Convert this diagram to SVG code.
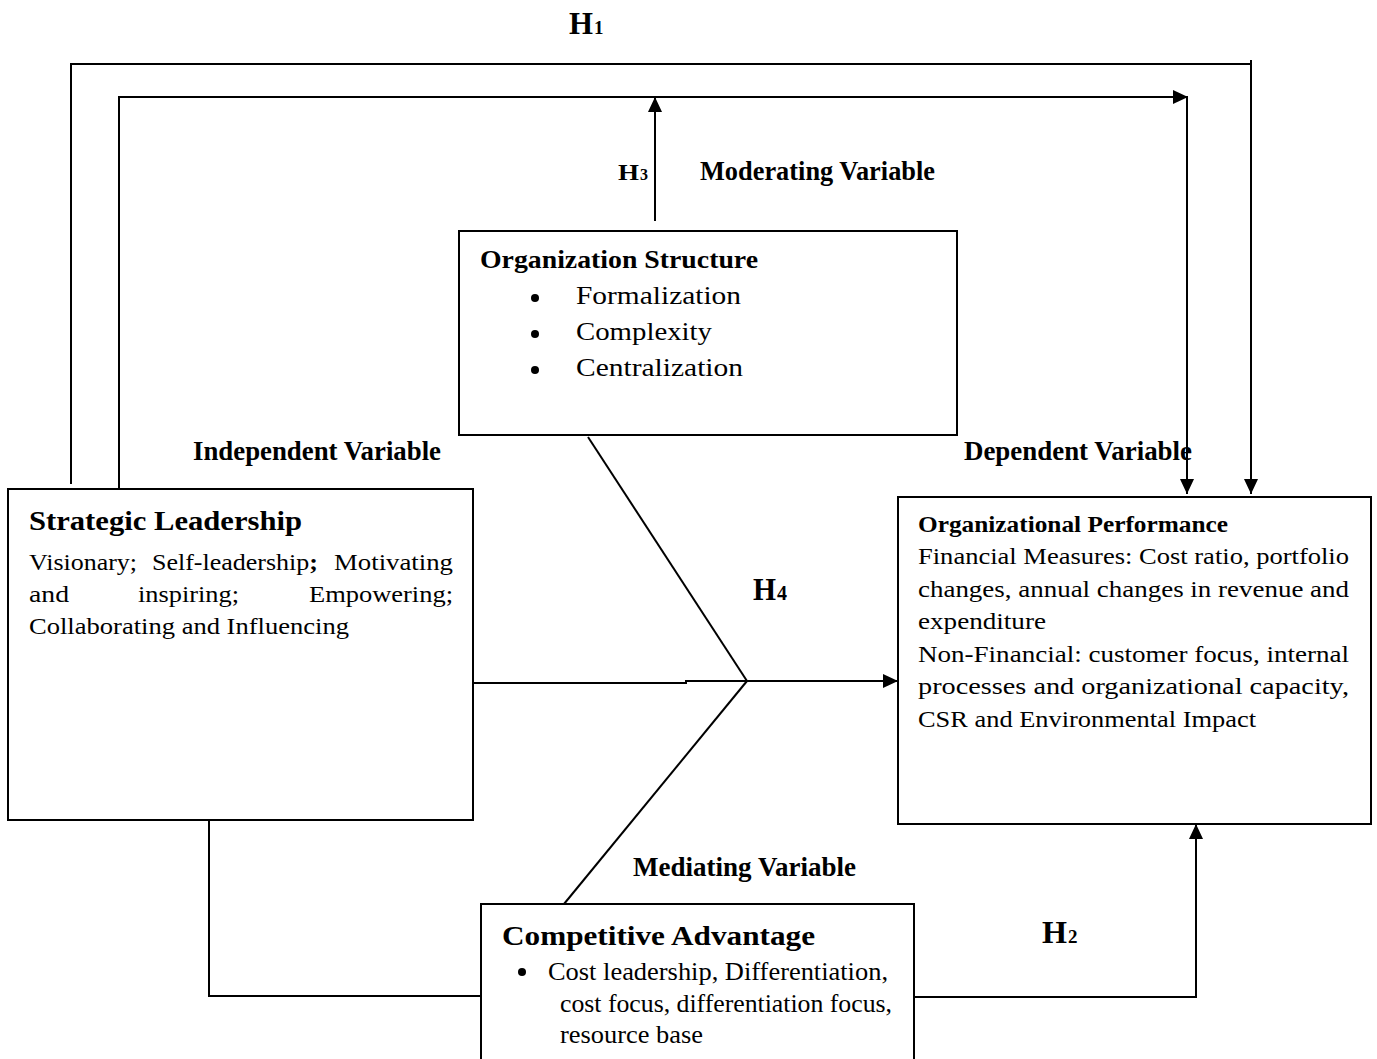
<svg xmlns="http://www.w3.org/2000/svg" width="1377" height="1059" viewBox="0 0 1377 1059">
  <style>
    .bg { fill: #ffffff; }
    .box { fill: #ffffff; stroke: #000000; stroke-width: 2; }
    .conn { fill: none; stroke: #000000; stroke-width: 2; }
    .dot { fill: #000000; }
    .serif { font-family: "Liberation Serif", "Times New Roman", serif; fill: #000000; }
    .lbl { font-weight: bold; font-size: 26.5px; }
    .hyp { font-weight: bold; }
    .title { font-weight: bold; }
    .body { font-size: 24px; }
    .list { font-size: 26px; }
    .ca { font-size: 25px; }
  </style>
  <defs>
    <marker id="arrow" markerUnits="userSpaceOnUse" markerWidth="15" markerHeight="14" refX="15" refY="7" orient="auto">
      <path d="M0,0 L15,7 L0,14 z" fill="#000000"/>
    </marker>
  </defs>

  <rect class="bg" x="0" y="0" width="1377" height="1059"/>

  <!-- connectors -->
  <g id="connectors">
    <!-- H1: direct path, outer loop -->
    <path class="conn" d="M71,484 V64 H1251 V494" marker-end="url(#arrow)"/>
    <path class="conn" d="M1251,60 V64"/>
    <!-- inner loop carrying the moderated path -->
    <path class="conn" d="M119,488 V97 H1188" marker-end="url(#arrow)"/>
    <path class="conn" d="M1187,97 V494" marker-end="url(#arrow)"/>
    <!-- H3: moderator up to the inner loop -->
    <path class="conn" d="M655,221 V97" marker-end="url(#arrow)"/>
    <!-- H4: joint effect into performance -->
    <path class="conn" d="M473,683 H686 V681 H747"/>
    <path class="conn" d="M588,437 L747,681"/>
    <path class="conn" d="M564,904 L747,681"/>
    <path class="conn" d="M747,681 H898" marker-end="url(#arrow)"/>
    <!-- leadership to competitive advantage -->
    <path class="conn" d="M209,820 V996 H481"/>
    <!-- H2: competitive advantage to performance -->
    <path class="conn" d="M914,997 H1196 V824" marker-end="url(#arrow)"/>
  </g>

  <!-- hypothesis and variable labels -->
  <g id="labels" class="serif">
    <text class="hyp" x="569" y="34" font-size="32" textLength="24" lengthAdjust="spacingAndGlyphs">H</text>
    <text class="hyp" x="594" y="34" font-size="19">1</text>
    <text class="hyp" x="618" y="180" font-size="23" textLength="21" lengthAdjust="spacingAndGlyphs">H</text>
    <text class="hyp" x="640" y="180" font-size="16">3</text>
    <text class="hyp" x="753" y="600" font-size="32" textLength="23" lengthAdjust="spacingAndGlyphs">H</text>
    <text class="hyp" x="777" y="600" font-size="20">4</text>
    <text class="hyp" x="1042" y="943" font-size="32" textLength="25" lengthAdjust="spacingAndGlyphs">H</text>
    <text class="hyp" x="1068" y="943" font-size="19">2</text>
    <text class="lbl" x="700" y="180" textLength="235" lengthAdjust="spacingAndGlyphs">Moderating Variable</text>
    <text class="lbl" x="193" y="460" textLength="248" lengthAdjust="spacingAndGlyphs">Independent Variable</text>
    <text class="lbl" x="964" y="460" textLength="228" lengthAdjust="spacingAndGlyphs">Dependent Variable</text>
    <text class="lbl" x="633" y="876" textLength="223" lengthAdjust="spacingAndGlyphs">Mediating Variable</text>
  </g>

  <!-- moderating variable -->
  <g id="organization-structure" class="serif">
    <rect class="box" x="459" y="231" width="498" height="204"/>
    <text class="title" x="480" y="268" font-size="25" textLength="278" lengthAdjust="spacingAndGlyphs">Organization Structure</text>
    <circle class="dot" cx="535" cy="298" r="4"/>
    <text class="list" x="576" y="304" textLength="165" lengthAdjust="spacingAndGlyphs">Formalization</text>
    <circle class="dot" cx="535" cy="334" r="4"/>
    <text class="list" x="576" y="340" textLength="136" lengthAdjust="spacingAndGlyphs">Complexity</text>
    <circle class="dot" cx="535" cy="370" r="4"/>
    <text class="list" x="576" y="376" textLength="167" lengthAdjust="spacingAndGlyphs">Centralization</text>
  </g>

  <!-- independent variable -->
  <g id="strategic-leadership" class="serif">
    <rect class="box" x="8" y="489" width="465" height="331"/>
    <text class="title" x="29" y="530" font-size="27" textLength="273" lengthAdjust="spacingAndGlyphs">Strategic Leadership</text>
    <text class="body" x="29" y="570" textLength="108" lengthAdjust="spacingAndGlyphs">Visionary;</text>
    <text class="body" x="152" y="570" textLength="166" lengthAdjust="spacingAndGlyphs">Self-leadership<tspan font-weight="bold">;</tspan></text>
    <text class="body" x="334" y="570" textLength="119" lengthAdjust="spacingAndGlyphs">Motivating</text>
    <text class="body" x="29" y="602" textLength="40" lengthAdjust="spacingAndGlyphs">and</text>
    <text class="body" x="138" y="602" textLength="101" lengthAdjust="spacingAndGlyphs">inspiring;</text>
    <text class="body" x="309" y="602" textLength="144" lengthAdjust="spacingAndGlyphs">Empowering;</text>
    <text class="body" x="29" y="634" textLength="320" lengthAdjust="spacingAndGlyphs">Collaborating and Influencing</text>
  </g>

  <!-- dependent variable -->
  <g id="organizational-performance" class="serif">
    <rect class="box" x="898" y="497" width="473" height="327"/>
    <text class="title" x="918" y="532" font-size="23" textLength="310" lengthAdjust="spacingAndGlyphs">Organizational Performance</text>
    <text class="body" x="918" y="564" textLength="431" lengthAdjust="spacingAndGlyphs">Financial Measures: Cost ratio, portfolio</text>
    <text class="body" x="918" y="597" textLength="431" lengthAdjust="spacingAndGlyphs">changes, annual changes in revenue and</text>
    <text class="body" x="918" y="629" textLength="128" lengthAdjust="spacingAndGlyphs">expenditure</text>
    <text class="body" x="918" y="662" textLength="431" lengthAdjust="spacingAndGlyphs">Non-Financial: customer focus, internal</text>
    <text class="body" x="918" y="694" textLength="431" lengthAdjust="spacingAndGlyphs">processes and organizational capacity,</text>
    <text class="body" x="918" y="727" textLength="338" lengthAdjust="spacingAndGlyphs">CSR and Environmental Impact</text>
  </g>

  <!-- mediating variable -->
  <g id="competitive-advantage" class="serif">
    <rect class="box" x="481" y="904" width="433" height="170"/>
    <text class="title" x="502" y="945" font-size="28" textLength="313" lengthAdjust="spacingAndGlyphs">Competitive Advantage</text>
    <circle class="dot" cx="522" cy="972" r="4"/>
    <text class="ca" x="548" y="980" textLength="340" lengthAdjust="spacingAndGlyphs">Cost leadership, Differentiation,</text>
    <text class="ca" x="560" y="1012" textLength="332" lengthAdjust="spacingAndGlyphs">cost focus, differentiation focus,</text>
    <text class="ca" x="560" y="1043" textLength="143" lengthAdjust="spacingAndGlyphs">resource base</text>
  </g>
</svg>
